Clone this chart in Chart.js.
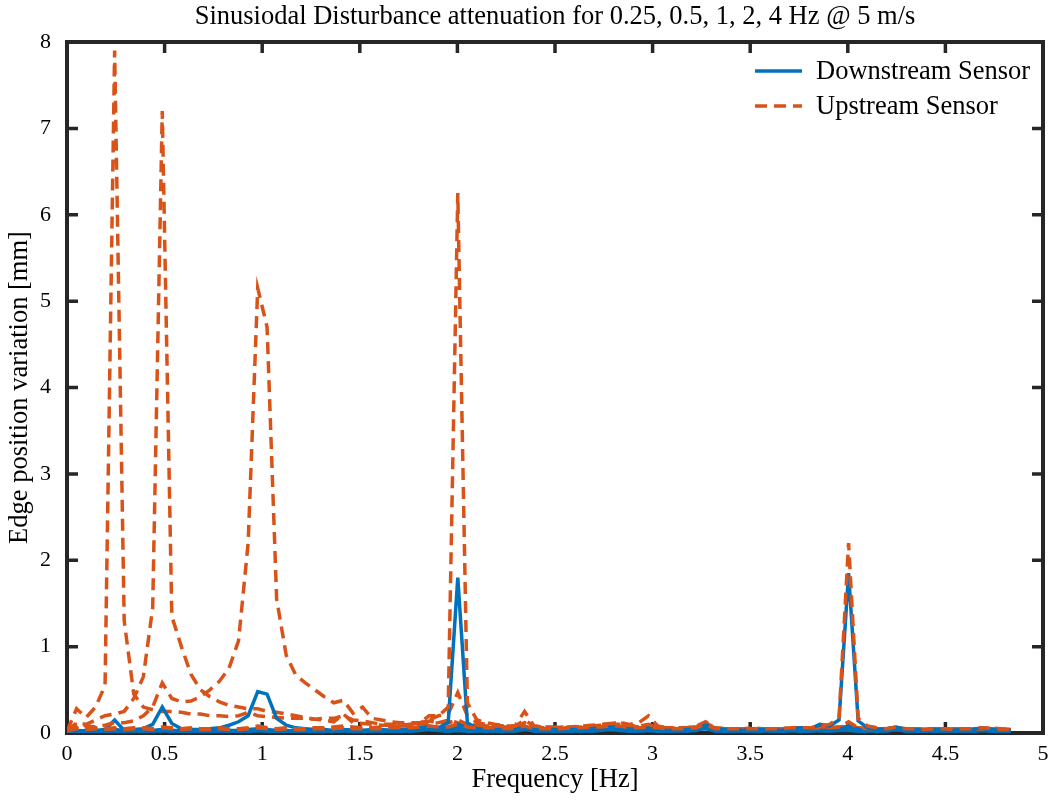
<!DOCTYPE html>
<html>
<head>
<meta charset="utf-8">
<script src="https://cdn.jsdelivr.net/npm/chart.js@4/dist/chart.umd.min.js"></script>
<style>body{margin:0;background:#fff}</style>
</head>
<body>
<canvas id="c" width="1053" height="801"></canvas>
<script>
// frequency bins [Hz], shared by all spectra
const freq = [
  0, 0.049, 0.098, 0.146, 0.195, 0.244, 0.293, 0.342, 0.391, 0.439,
  0.488, 0.537, 0.586, 0.635, 0.684, 0.732, 0.781, 0.830, 0.879, 0.928,
  0.977, 1.025, 1.074, 1.123, 1.172, 1.221, 1.270, 1.318, 1.367, 1.416,
  1.465, 1.514, 1.563, 1.611, 1.660, 1.709, 1.758, 1.807, 1.855, 1.904,
  1.953, 2.002, 2.051, 2.100, 2.148, 2.197, 2.246, 2.295, 2.344, 2.393,
  2.441, 2.490, 2.539, 2.588, 2.637, 2.686, 2.734, 2.783, 2.832, 2.881,
  2.930, 2.979, 3.027, 3.076, 3.125, 3.174, 3.223, 3.271, 3.320, 3.369,
  3.418, 3.467, 3.516, 3.564, 3.613, 3.662, 3.711, 3.760, 3.809, 3.857,
  3.906, 3.955, 4.004, 4.053, 4.102, 4.150, 4.199, 4.248, 4.297, 4.346,
  4.395, 4.443, 4.492, 4.541, 4.590, 4.639, 4.688, 4.736, 4.785, 4.834
];

// downstream sensor [mm]
const down025 = [
  0.01, 0.03, 0.02, 0.03, 0.04, 0.15, 0.03, 0.02, 0.02, 0.03,
  0.04, 0.03, 0.02, 0.02, 0.03, 0.02, 0.02, 0.03, 0.02, 0.02,
  0.03, 0.02, 0.02, 0.03, 0.02, 0.02, 0.03, 0.02, 0.02, 0.03,
  0.02, 0.02, 0.03, 0.02, 0.02, 0.03, 0.02, 0.03, 0.04, 0.03,
  0.02, 0.03, 0.02, 0.02, 0.03, 0.02, 0.02, 0.03, 0.05, 0.02,
  0.02, 0.03, 0.02, 0.02, 0.03, 0.02, 0.03, 0.04, 0.03, 0.02,
  0.02, 0.03, 0.02, 0.02, 0.03, 0.02, 0.03, 0.06, 0.02, 0.02,
  0.03, 0.02, 0.02, 0.03, 0.02, 0.02, 0.03, 0.02, 0.02, 0.03,
  0.02, 0.03, 0.03, 0.02, 0.02, 0.03, 0.02, 0.04, 0.02, 0.02,
  0.03, 0.02, 0.02, 0.03, 0.02, 0.02, 0.03, 0.02, 0.02, 0.02
];
const down05 = [
  0.01, 0.02, 0.03, 0.02, 0.03, 0.04, 0.03, 0.04, 0.05, 0.10,
  0.30, 0.11, 0.05, 0.04, 0.03, 0.03, 0.04, 0.03, 0.03, 0.04,
  0.05, 0.04, 0.03, 0.03, 0.02, 0.03, 0.03, 0.02, 0.03, 0.04,
  0.03, 0.03, 0.02, 0.03, 0.03, 0.02, 0.03, 0.04, 0.05, 0.04,
  0.03, 0.06, 0.03, 0.03, 0.02, 0.03, 0.03, 0.02, 0.04, 0.03,
  0.03, 0.02, 0.03, 0.03, 0.02, 0.03, 0.04, 0.05, 0.04, 0.03,
  0.03, 0.04, 0.03, 0.02, 0.03, 0.03, 0.04, 0.05, 0.03, 0.02,
  0.03, 0.03, 0.02, 0.03, 0.03, 0.04, 0.03, 0.03, 0.04, 0.03,
  0.03, 0.04, 0.05, 0.04, 0.03, 0.03, 0.03, 0.04, 0.03, 0.03,
  0.02, 0.03, 0.03, 0.02, 0.03, 0.03, 0.04, 0.03, 0.02, 0.03
];
const down1 = [
  0.01, 0.02, 0.02, 0.03, 0.02, 0.03, 0.02, 0.03, 0.03, 0.02,
  0.04, 0.03, 0.03, 0.04, 0.04, 0.05, 0.06, 0.09, 0.13, 0.20,
  0.48, 0.45, 0.17, 0.09, 0.06, 0.05, 0.04, 0.04, 0.03, 0.04,
  0.03, 0.03, 0.04, 0.03, 0.03, 0.04, 0.05, 0.06, 0.05, 0.06,
  0.07, 0.10, 0.06, 0.05, 0.04, 0.03, 0.04, 0.04, 0.06, 0.04,
  0.03, 0.04, 0.03, 0.04, 0.05, 0.06, 0.07, 0.08, 0.07, 0.05,
  0.04, 0.06, 0.05, 0.04, 0.03, 0.04, 0.05, 0.08, 0.04, 0.03,
  0.03, 0.04, 0.03, 0.03, 0.04, 0.03, 0.04, 0.05, 0.04, 0.03,
  0.04, 0.05, 0.06, 0.05, 0.04, 0.03, 0.04, 0.06, 0.04, 0.03,
  0.03, 0.04, 0.03, 0.03, 0.04, 0.03, 0.05, 0.04, 0.03, 0.03
];
const down2 = [
  0.01, 0.02, 0.02, 0.02, 0.03, 0.02, 0.02, 0.03, 0.02, 0.02,
  0.03, 0.02, 0.02, 0.03, 0.02, 0.02, 0.03, 0.02, 0.03, 0.03,
  0.04, 0.03, 0.02, 0.02, 0.03, 0.02, 0.02, 0.03, 0.02, 0.03,
  0.02, 0.03, 0.03, 0.04, 0.03, 0.03, 0.04, 0.05, 0.08, 0.06,
  0.12, 1.80, 0.12, 0.05, 0.04, 0.03, 0.04, 0.03, 0.08, 0.03,
  0.03, 0.02, 0.03, 0.03, 0.04, 0.05, 0.04, 0.06, 0.05, 0.03,
  0.03, 0.05, 0.04, 0.03, 0.02, 0.03, 0.04, 0.10, 0.03, 0.02,
  0.02, 0.03, 0.02, 0.03, 0.03, 0.02, 0.03, 0.03, 0.04, 0.03,
  0.03, 0.04, 0.08, 0.04, 0.03, 0.02, 0.03, 0.04, 0.03, 0.02,
  0.02, 0.03, 0.02, 0.03, 0.02, 0.02, 0.04, 0.03, 0.02, 0.02
];
const down4 = [
  0.01, 0.02, 0.03, 0.02, 0.02, 0.03, 0.02, 0.02, 0.03, 0.02,
  0.03, 0.02, 0.02, 0.03, 0.02, 0.03, 0.02, 0.02, 0.03, 0.02,
  0.03, 0.03, 0.02, 0.02, 0.03, 0.02, 0.03, 0.02, 0.02, 0.03,
  0.02, 0.02, 0.03, 0.02, 0.03, 0.02, 0.03, 0.04, 0.05, 0.04,
  0.04, 0.06, 0.04, 0.03, 0.03, 0.04, 0.03, 0.03, 0.05, 0.03,
  0.03, 0.04, 0.03, 0.04, 0.04, 0.05, 0.06, 0.07, 0.06, 0.04,
  0.04, 0.05, 0.04, 0.03, 0.03, 0.04, 0.05, 0.09, 0.05, 0.04,
  0.04, 0.03, 0.03, 0.04, 0.04, 0.03, 0.05, 0.06, 0.05, 0.10,
  0.08, 0.15, 1.85, 0.14, 0.06, 0.04, 0.05, 0.07, 0.04, 0.04,
  0.03, 0.04, 0.04, 0.03, 0.05, 0.04, 0.06, 0.04, 0.03, 0.03
];

// upstream sensor [mm]
const up025 = [
  0.02, 0.28, 0.18, 0.30, 0.55, 7.90, 1.30, 0.45, 0.30, 0.27,
  0.25, 0.25, 0.24, 0.22, 0.22, 0.20, 0.20, 0.19, 0.20, 0.24,
  0.20, 0.19, 0.18, 0.17, 0.17, 0.17, 0.16, 0.17, 0.17, 0.20,
  0.15, 0.14, 0.12, 0.10, 0.10, 0.09, 0.10, 0.12, 0.14, 0.12,
  0.12, 0.15, 0.10, 0.09, 0.08, 0.08, 0.07, 0.07, 0.12, 0.07,
  0.06, 0.06, 0.07, 0.06, 0.07, 0.08, 0.09, 0.10, 0.10, 0.08,
  0.07, 0.08, 0.06, 0.06, 0.05, 0.06, 0.07, 0.12, 0.06, 0.05,
  0.05, 0.05, 0.06, 0.05, 0.05, 0.05, 0.06, 0.06, 0.05, 0.05,
  0.05, 0.06, 0.07, 0.06, 0.05, 0.05, 0.05, 0.06, 0.05, 0.05,
  0.05, 0.05, 0.04, 0.05, 0.05, 0.04, 0.06, 0.05, 0.04, 0.04
];
const up05 = [
  0.02, 0.12, 0.10, 0.15, 0.20, 0.22, 0.25, 0.40, 0.65, 1.45,
  7.20, 1.35, 1.00, 0.68, 0.50, 0.42, 0.36, 0.32, 0.30, 0.28,
  0.28, 0.25, 0.24, 0.22, 0.20, 0.18, 0.16, 0.15, 0.13, 0.22,
  0.12, 0.11, 0.10, 0.09, 0.09, 0.08, 0.09, 0.10, 0.10, 0.12,
  0.15, 0.12, 0.10, 0.09, 0.08, 0.07, 0.07, 0.07, 0.10, 0.07,
  0.06, 0.06, 0.06, 0.07, 0.07, 0.08, 0.08, 0.09, 0.10, 0.08,
  0.07, 0.08, 0.07, 0.06, 0.06, 0.05, 0.06, 0.09, 0.05, 0.05,
  0.05, 0.04, 0.05, 0.05, 0.04, 0.05, 0.05, 0.06, 0.05, 0.06,
  0.06, 0.07, 0.08, 0.06, 0.05, 0.05, 0.04, 0.05, 0.05, 0.04,
  0.04, 0.05, 0.04, 0.04, 0.05, 0.04, 0.05, 0.05, 0.04, 0.04
];
const up1 = [
  0.02, 0.10, 0.08, 0.07, 0.09, 0.12, 0.12, 0.14, 0.20, 0.30,
  0.58, 0.40, 0.36, 0.37, 0.42, 0.50, 0.60, 0.75, 1.07, 2.20,
  5.15, 4.70, 1.55, 0.90, 0.67, 0.58, 0.50, 0.42, 0.35, 0.38,
  0.23, 0.30, 0.17, 0.15, 0.13, 0.12, 0.12, 0.12, 0.15, 0.20,
  0.22, 0.47, 0.20, 0.12, 0.10, 0.09, 0.08, 0.08, 0.15, 0.08,
  0.07, 0.07, 0.06, 0.07, 0.08, 0.09, 0.10, 0.11, 0.12, 0.10,
  0.12, 0.20, 0.08, 0.06, 0.05, 0.06, 0.07, 0.10, 0.06, 0.05,
  0.05, 0.05, 0.04, 0.05, 0.05, 0.05, 0.04, 0.05, 0.05, 0.05,
  0.05, 0.06, 0.08, 0.05, 0.05, 0.04, 0.05, 0.05, 0.04, 0.05,
  0.04, 0.04, 0.05, 0.04, 0.04, 0.05, 0.04, 0.05, 0.04, 0.04
];
const up2 = [
  0.02, 0.06, 0.05, 0.06, 0.05, 0.06, 0.05, 0.06, 0.06, 0.05,
  0.07, 0.06, 0.05, 0.06, 0.05, 0.05, 0.06, 0.05, 0.05, 0.06,
  0.08, 0.06, 0.05, 0.06, 0.05, 0.05, 0.06, 0.06, 0.07, 0.08,
  0.07, 0.06, 0.06, 0.07, 0.08, 0.08, 0.10, 0.12, 0.20, 0.20,
  0.30, 6.25, 0.35, 0.15, 0.12, 0.10, 0.08, 0.08, 0.25, 0.08,
  0.07, 0.06, 0.06, 0.07, 0.08, 0.07, 0.08, 0.10, 0.13, 0.09,
  0.08, 0.10, 0.06, 0.05, 0.06, 0.06, 0.08, 0.13, 0.06, 0.05,
  0.05, 0.05, 0.05, 0.04, 0.05, 0.05, 0.05, 0.06, 0.05, 0.06,
  0.06, 0.07, 0.13, 0.06, 0.05, 0.05, 0.05, 0.06, 0.05, 0.05,
  0.04, 0.05, 0.05, 0.04, 0.05, 0.04, 0.05, 0.06, 0.05, 0.04
];
const up4 = [
  0.02, 0.05, 0.04, 0.05, 0.04, 0.05, 0.04, 0.05, 0.05, 0.04,
  0.06, 0.05, 0.04, 0.05, 0.04, 0.04, 0.05, 0.04, 0.04, 0.05,
  0.06, 0.05, 0.04, 0.05, 0.04, 0.04, 0.05, 0.05, 0.05, 0.06,
  0.05, 0.05, 0.05, 0.05, 0.06, 0.06, 0.06, 0.07, 0.08, 0.07,
  0.07, 0.10, 0.07, 0.06, 0.06, 0.06, 0.05, 0.05, 0.08, 0.05,
  0.05, 0.05, 0.05, 0.06, 0.06, 0.07, 0.07, 0.08, 0.08, 0.06,
  0.06, 0.07, 0.06, 0.05, 0.05, 0.05, 0.06, 0.10, 0.05, 0.05,
  0.05, 0.05, 0.05, 0.05, 0.05, 0.05, 0.06, 0.06, 0.06, 0.08,
  0.10, 0.17, 2.20, 0.17, 0.08, 0.06, 0.05, 0.07, 0.05, 0.05,
  0.04, 0.05, 0.05, 0.04, 0.05, 0.05, 0.06, 0.05, 0.04, 0.04
];

const xTickVals = [0, 0.5, 1, 1.5, 2, 2.5, 3, 3.5, 4, 4.5, 5];
const yTickVals = [0, 1, 2, 3, 4, 5, 6, 7, 8];
const seriesNames = ['Downstream Sensor', 'Upstream Sensor'];
const chartTitle = 'Sinusiodal Disturbance attenuation for 0.25, 0.5, 1, 2, 4 Hz @ 5 m/s';

const BLUE = '#0072BD';
const ORANGE = '#D95319';
const DASH = [12, 7];
const FONT = '"Liberation Serif", "Times New Roman", serif';
const LW = 3.5;

function pts(vals) {
  return vals.map((v, i) => ({ x: freq[i], y: v }));
}

// one downstream + one upstream spectrum per test frequency
const tests = [
  [down025, up025], [down05, up05], [down1, up1], [down2, up2], [down4, up4]
];
const datasets = [];
tests.forEach(([d, u]) => {
  datasets.push({ label: seriesNames[0], data: pts(d), borderColor: BLUE, borderWidth: LW });
  datasets.push({ label: seriesNames[1], data: pts(u), borderColor: ORANGE, borderWidth: LW, borderDash: DASH });
});
datasets.reverse(); // chart.js paints index 0 last

const framePlugin = {
  id: 'frame',
  beforeDatasetsDraw(chart) {
    const { ctx, chartArea: a, scales } = chart;
    ctx.save();
    ctx.strokeStyle = '#262626';
    ctx.lineWidth = 3.5;
    ctx.beginPath();
    xTickVals.forEach(v => {
      const px = scales.x.getPixelForValue(v);
      ctx.moveTo(px, a.bottom); ctx.lineTo(px, a.bottom - 11);
      ctx.moveTo(px, a.top); ctx.lineTo(px, a.top + 11);
    });
    yTickVals.forEach(v => {
      const py = scales.y.getPixelForValue(v);
      ctx.moveTo(a.left, py); ctx.lineTo(a.left + 11, py);
      ctx.moveTo(a.right, py); ctx.lineTo(a.right - 11, py);
    });
    ctx.stroke();
    ctx.lineWidth = 4;
    ctx.strokeRect(a.left, a.top, a.right - a.left, a.bottom - a.top);
    ctx.restore();
  }
};

// title centred over the axes (MATLAB style), plus line-sample legend
const textPlugin = {
  id: 'axesText',
  afterDatasetsDraw(chart) {
    const { ctx, chartArea: a } = chart;
    ctx.save();
    ctx.fillStyle = '#000';
    ctx.textBaseline = 'middle';
    ctx.textAlign = 'center';
    ctx.font = '26.5px ' + FONT;
    ctx.fillText(chartTitle, (a.left + a.right) / 2, 17);

    ctx.textAlign = 'left';
    [[BLUE, []], [ORANGE, DASH]].forEach(([col, dash], k) => {
      const y = 71 + k * 35;
      ctx.strokeStyle = col;
      ctx.lineWidth = LW;
      ctx.setLineDash(dash);
      ctx.beginPath();
      ctx.moveTo(755, y); ctx.lineTo(802, y);
      ctx.stroke();
      ctx.setLineDash([]);
      ctx.fillText(seriesNames[k], 816, y + 1);
    });
    ctx.restore();
  }
};

new Chart(document.getElementById('c'), {
  type: 'line',
  data: { datasets },
  options: {
    responsive: false,
    animation: false,
    events: [],
    layout: { padding: { top: 42, right: 10 } },
    elements: { point: { radius: 0 }, line: { tension: 0, fill: false } },
    plugins: {
      legend: { display: false },
      tooltip: { enabled: false },
      title: { display: false }
    },
    scales: {
      x: {
        type: 'linear', min: 0, max: 5,
        afterBuildTicks: s => { s.ticks = xTickVals.map(v => ({ value: v })); },
        afterFit: s => { s.height = 68; s.paddingLeft = 0; s.paddingRight = 0; },
        grid: { display: false },
        border: { display: false },
        ticks: { color: '#000', font: { family: FONT, size: 22 }, padding: 0, maxRotation: 0, callback: v => String(v) },
        title: { display: true, text: 'Frequency [Hz]', color: '#000', font: { family: FONT, size: 26.5 }, padding: { top: 0, bottom: 5 } }
      },
      y: {
        min: 0, max: 8,
        afterBuildTicks: s => { s.ticks = yTickVals.map(v => ({ value: v })); },
        afterFit: s => { s.width = 67; s.paddingTop = 0; s.paddingBottom = 0; },
        grid: { display: false },
        border: { display: false },
        ticks: { color: '#000', font: { family: FONT, size: 22 }, padding: 8, callback: v => String(v) },
        title: { display: true, text: 'Edge position variation [mm]', color: '#000', font: { family: FONT, size: 26.5 }, padding: { top: 4, bottom: 0 } }
      }
    }
  },
  plugins: [framePlugin, textPlugin]
});
</script>
</body>
</html>
